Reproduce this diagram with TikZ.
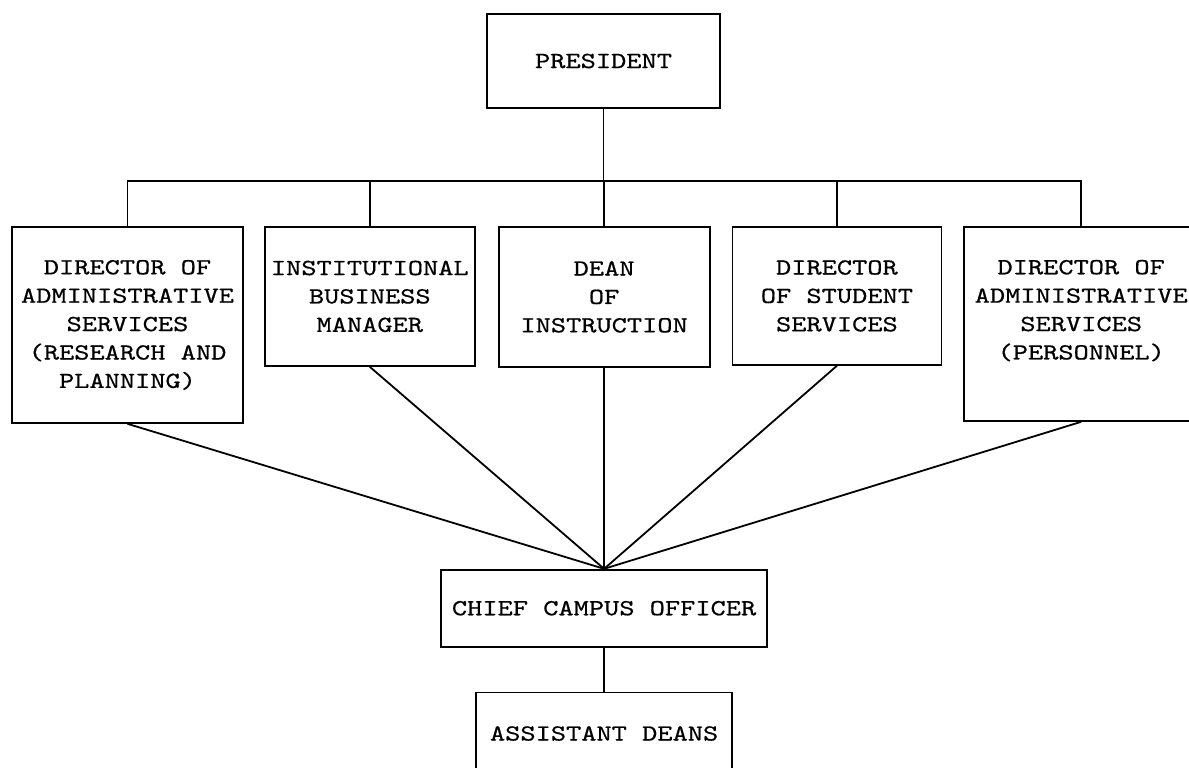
\documentclass[tikz,border=0pt]{standalone}
\usepackage{fontspec}
\newfontfamily\chartfont{lmmono10-regular.otf}[FakeStretch=1.26, FakeBold=0.6]
\usetikzlibrary{positioning}

\begin{document}
\begin{tikzpicture}[x=0.5pt, y=-0.5pt, line width=0.9pt,
    box/.style={draw, rectangle, align=center, inner sep=0pt,
        font=\chartfont\fontsize{11.5}{14.2}\selectfont}]
    \useasboundingbox (0,0) rectangle (1189,767);

    \node [box, minimum width=116.5pt, minimum height=47pt] (pres) at (603.5,61) {PRESIDENT};
    \coordinate (bar) at (606,181);

    \node [box, minimum width=115.5pt, minimum height=98pt, anchor=north] (plan) at (127.5,226)
        {DIRECTOR OF\\ADMINISTRATIVE\\SERVICES\\(RESEARCH AND\\PLANNING)};
    \node [box, minimum width=105pt, minimum height=69.5pt, right=10pt of plan.north east, anchor=north west] (busmgr)
        {INSTITUTIONAL\\BUSINESS\\MANAGER};
    \node [box, minimum width=105.5pt, minimum height=70pt, right=11pt of busmgr.north east, anchor=north west] (dean)
        {DEAN\\OF\\INSTRUCTION};
    \node [box, minimum width=104.5pt, minimum height=69pt, right=10.5pt of dean.north east, anchor=north west] (stud)
        {DIRECTOR\\OF STUDENT\\SERVICES};
    \node [box, minimum width=117pt, minimum height=97pt, right=10.5pt of stud.north east, anchor=north west] (pers)
        {DIRECTOR OF\\ADMINISTRATIVE\\SERVICES\\(PERSONNEL)\\ \mbox{}};

    \node [box, minimum width=163pt, minimum height=38.5pt, below=100.5pt of dean] (chief) {CHIEF CAMPUS OFFICER};
    \node [box, minimum width=128pt, minimum height=41pt, below=22pt of chief] (asst) {ASSISTANT DEANS};

    % top bar
    \draw (pres.south) -- (pres.south |- bar);
    \draw (plan.north) -- (plan.north |- bar) -- (pers.north |- bar) -- (pers.north);
    \foreach \n in {busmgr,dean,stud}
        \draw (\n.north) -- (\n.north |- bar);

    % fan into the campus officer
    \foreach \n in {plan,busmgr,dean,stud,pers}
        \draw (\n.south) -- (chief.north);
    \draw (chief.south) -- (asst.north);
\end{tikzpicture}
\end{document}
